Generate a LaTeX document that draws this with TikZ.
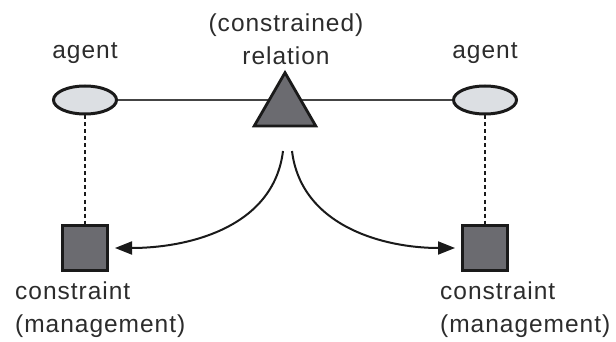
\documentclass[tikz,border=0pt]{standalone}
\usepackage{fontspec}
\setmainfont{Liberation Sans}[LetterSpace=4]
\usetikzlibrary{shapes.geometric,arrows.meta}
\definecolor{txt}{HTML}{2C2C2C}
\definecolor{edge}{HTML}{1A1A1A}
\definecolor{agentfill}{HTML}{DCDFE3}
\definecolor{darkfill}{HTML}{6B6B70}
\definecolor{hline}{HTML}{444444}
\tikzset{
  agentnode/.style={ellipse, draw=edge, line width=3pt, fill=agentfill,
    minimum width=63pt, minimum height=28pt, inner sep=0pt},
  relnode/.style={regular polygon, regular polygon sides=3, draw=edge,
    line width=2.8pt, fill=darkfill, minimum size=71pt, inner sep=0pt},
  cnode/.style={rectangle, draw=edge, line width=3pt, fill=darkfill,
    minimum size=45pt, inner sep=0pt},
  lbl/.style={font=\fontsize{24.5}{33}\selectfont, text=txt, inner sep=0pt},
  dashline/.style={draw=edge, line width=2.2pt, dash pattern=on 4pt off 3pt},
  arr/.style={draw=edge, line width=2pt, -{Triangle[length=17pt,width=13pt]}}
}
\begin{document}
\begin{tikzpicture}[x=1pt,y=-1pt]
\useasboundingbox (0,0) rectangle (616,342);
% nodes
\node[agentnode] (a1) at (85,100) {};
\node[agentnode] (a2) at (485,100) {};
\draw[hline, line width=2.8pt] (a1.east) -- (a2.west);
\node[relnode] (rel) at (285,108.2) {};
\node[cnode] (c1) at (85,248) {};
\node[cnode] (c2) at (485,248) {};
% labels
\node[lbl, anchor=base] (la1) at (85,59) {agent};
\node[lbl, anchor=base] (la2) at (485,59) {agent};
\node[lbl, anchor=base, align=center] (lrel) at (286,65) {(constrained)\\relation};
\node[lbl, anchor=base west, align=left] (lc1) at (15,332) {constraint\\(management)};
\node[lbl, anchor=base west, align=left] (lc2) at (440,332) {constraint\\(management)};
% dashed links
\draw[dashline] (a1.south) -- (c1.north);
\draw[dashline] (a2.south) -- (c2.north);
% curved arrows
\coordinate (s1) at (283,151);
\coordinate (s2) at (292,151);
\draw[arr, shorten >=6pt] (s1) to[out=-97,in=0] (c1.east);
\draw[arr, shorten >=6pt] (s2) to[out=-83,in=180] (c2.west);
\end{tikzpicture}
\end{document}
